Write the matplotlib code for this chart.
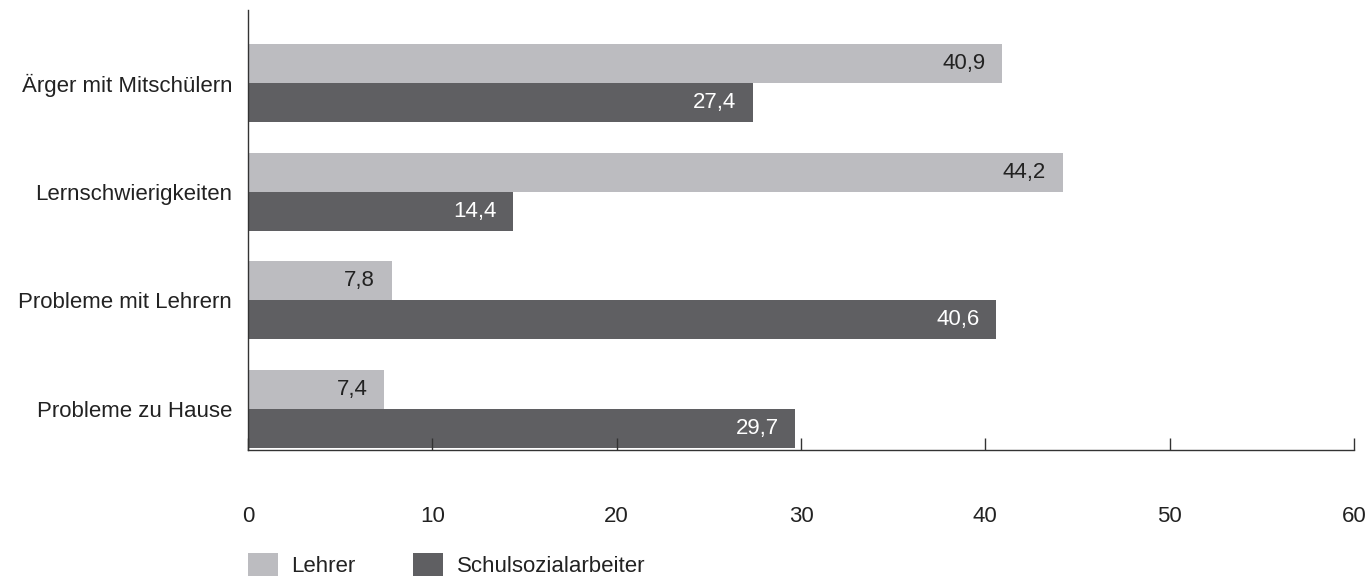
import matplotlib
matplotlib.use("Agg")
import matplotlib.pyplot as plt
import numpy as np
from matplotlib.patches import Patch

plt.rcParams["font.family"] = ["Liberation Sans", "DejaVu Sans"]

categories = ["Ärger mit Mitschülern", "Lernschwierigkeiten", "Probleme mit Lehrern", "Probleme zu Hause"]
lehrer = [40.9, 44.2, 7.8, 7.4]
sozial = [27.4, 14.4, 40.6, 29.7]
series_names = ["Lehrer", "Schulsozialarbeiter"]
xticks = [0, 10, 20, 30, 40, 50, 60]

c_light = "#bcbcc0"
c_dark = "#5f5f62"
c_text = "#222222"
fs = 16

fig = plt.figure(figsize=(13.68, 5.76), dpi=100)
ax = fig.add_axes([248 / 1368, 1 - 450 / 576, (1354 - 248) / 1368, 440 / 576])

y = np.arange(len(categories))
h = 0.358
b1 = ax.barh(y - h / 2, lehrer, h, color=c_light)
b2 = ax.barh(y + h / 2, sozial, h, color=c_dark)

for bars, vals, col in ((b1, lehrer, c_text), (b2, sozial, "white")):
    for bar, v in zip(bars, vals):
        ax.text(v - 0.9, bar.get_y() + bar.get_height() / 2, f"{v:.1f}".replace(".", ","),
                ha="right", va="center", fontsize=fs, color=col)

ax.set_xlim(0, 60)
ax.set_ylim(3.376, -0.67)
ax.set_xticks(xticks)
ax.set_xticklabels([str(t) for t in xticks], fontsize=fs, color=c_text)
ax.tick_params(axis="x", direction="in", length=9, width=1, color="#333333", pad=40)
ax.set_yticks(y)
ax.set_yticklabels(categories, fontsize=fs, color=c_text)
ax.tick_params(axis="y", length=0, pad=11.5)

for s in ("top", "right"):
    ax.spines[s].set_visible(False)
for s in ("left", "bottom"):
    ax.spines[s].set_color("#333333")
    ax.spines[s].set_linewidth(1)

handles = [Patch(facecolor=c_light), Patch(facecolor=c_dark)]
fig.legend(handles, series_names, loc="center left", bbox_to_anchor=(228 / 1368, 1 - 565 / 576),
           ncol=2, frameon=False, fontsize=fs, handlelength=1.35, handleheight=1.35,
           handletextpad=0.6, columnspacing=2.6, labelcolor=c_text)

fig.savefig("out.png", dpi=100)
